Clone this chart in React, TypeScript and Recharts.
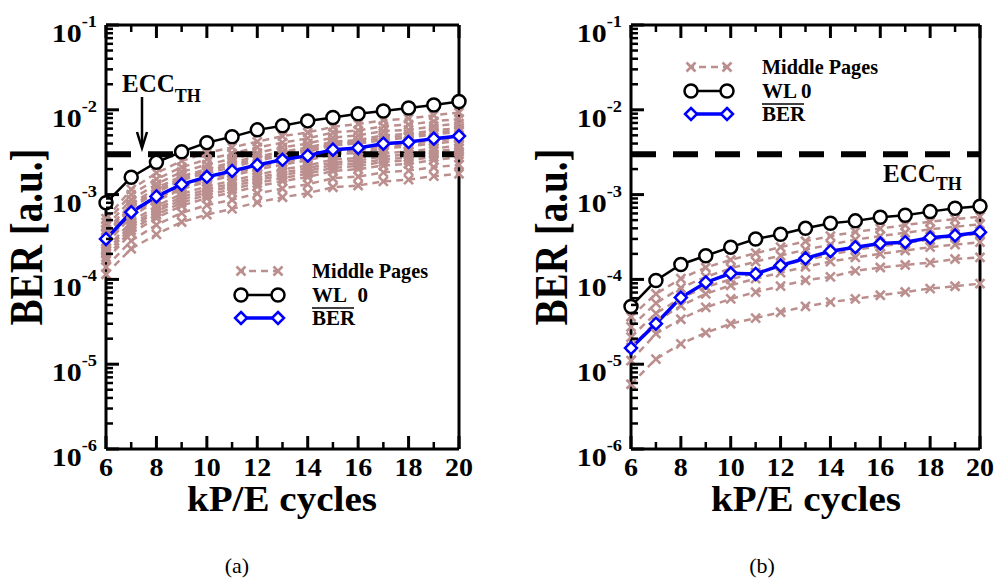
import React from 'react';
import { LineChart, Line, XAxis, YAxis, ReferenceLine } from 'recharts';

const FONT = '"Liberation Serif", "Times New Roman", serif';
const PINK = '#bc8f8f';

// kP/E cycles
const cycles = [6, 7, 8, 9, 10, 11, 12, 13, 14, 15, 16, 17, 18, 19, 20];

// panel (a)
const wl0A = [8.0e-4, 1.6e-3, 2.4e-3, 3.2e-3, 4.1e-3, 4.8e-3, 5.8e-3, 6.5e-3, 7.4e-3, 8.1e-3, 9.0e-3, 9.7e-3, 1.05e-2, 1.14e-2, 1.25e-2];
const berA = [3.0e-4, 6.2e-4, 9.5e-4, 1.32e-3, 1.62e-3, 1.9e-3, 2.24e-3, 2.57e-3, 2.88e-3, 3.39e-3, 3.55e-3, 3.98e-3, 4.17e-3, 4.57e-3, 4.9e-3];
const middleA = [
  [5.2e-4, 1.15e-3, 1.8e-3, 2.5e-3, 3.1e-3, 3.6e-3, 4.2e-3, 4.9e-3, 5.4e-3, 6.3e-3, 6.8e-3, 7.5e-3, 7.9e-3, 8.6e-3, 9.3e-3],
  [4.7e-4, 1.0e-3, 1.52e-3, 2.1e-3, 2.6e-3, 3.05e-3, 3.6e-3, 4.1e-3, 4.6e-3, 5.4e-3, 5.7e-3, 6.4e-3, 6.7e-3, 7.3e-3, 7.8e-3],
  [4.2e-4, 8.7e-4, 1.33e-3, 1.85e-3, 2.25e-3, 2.65e-3, 3.1e-3, 3.6e-3, 4.0e-3, 4.7e-3, 5.0e-3, 5.6e-3, 5.8e-3, 6.4e-3, 6.9e-3],
  [3.8e-4, 7.7e-4, 1.2e-3, 1.65e-3, 2.0e-3, 2.4e-3, 2.8e-3, 3.2e-3, 3.6e-3, 4.2e-3, 4.4e-3, 5.0e-3, 5.2e-3, 5.7e-3, 6.1e-3],
  [3.55e-4, 7.3e-4, 1.12e-3, 1.56e-3, 1.91e-3, 2.24e-3, 2.64e-3, 3.03e-3, 3.4e-3, 4.0e-3, 4.19e-3, 4.7e-3, 4.92e-3, 5.4e-3, 5.78e-3],
  [3.4e-4, 7.0e-4, 1.06e-3, 1.48e-3, 1.8e-3, 2.1e-3, 2.5e-3, 2.9e-3, 3.2e-3, 3.8e-3, 4.0e-3, 4.4e-3, 4.7e-3, 5.1e-3, 5.5e-3],
  [3.1e-4, 6.0e-4, 9.7e-4, 1.3e-3, 1.65e-3, 1.85e-3, 2.2e-3, 2.6e-3, 2.85e-3, 3.3e-3, 3.6e-3, 3.9e-3, 4.2e-3, 4.5e-3, 4.8e-3],
  [2.8e-4, 5.8e-4, 8.9e-4, 1.24e-3, 1.52e-3, 1.79e-3, 2.1e-3, 2.42e-3, 2.7e-3, 3.2e-3, 3.34e-3, 3.74e-3, 3.92e-3, 4.3e-3, 4.6e-3],
  [2.6e-4, 5.5e-4, 8.4e-4, 1.16e-3, 1.42e-3, 1.67e-3, 1.97e-3, 2.26e-3, 2.53e-3, 3.0e-3, 3.1e-3, 3.5e-3, 3.7e-3, 4.0e-3, 4.3e-3],
  [2.3e-4, 4.8e-4, 7.3e-4, 1.02e-3, 1.25e-3, 1.46e-3, 1.72e-3, 1.98e-3, 2.2e-3, 2.6e-3, 2.7e-3, 3.1e-3, 3.2e-3, 3.5e-3, 3.8e-3],
  [2.15e-4, 4.4e-4, 6.75e-4, 9.4e-4, 1.15e-3, 1.35e-3, 1.59e-3, 1.82e-3, 2.04e-3, 2.4e-3, 2.52e-3, 2.83e-3, 2.96e-3, 3.24e-3, 3.48e-3],
  [2.0e-4, 4.1e-4, 6.3e-4, 8.7e-4, 1.07e-3, 1.25e-3, 1.48e-3, 1.7e-3, 1.9e-3, 2.24e-3, 2.35e-3, 2.6e-3, 2.75e-3, 3.0e-3, 3.2e-3],
  [1.83e-4, 3.8e-4, 5.8e-4, 8.05e-4, 9.9e-4, 1.16e-3, 1.37e-3, 1.57e-3, 1.76e-3, 2.07e-3, 2.17e-3, 2.43e-3, 2.54e-3, 2.79e-3, 2.99e-3],
  [1.7e-4, 3.5e-4, 5.3e-4, 7.4e-4, 9.1e-4, 1.06e-3, 1.25e-3, 1.44e-3, 1.61e-3, 1.9e-3, 2.0e-3, 2.2e-3, 2.3e-3, 2.56e-3, 2.75e-3],
  [1.4e-4, 2.85e-4, 4.4e-4, 6.1e-4, 7.5e-4, 8.7e-4, 1.03e-3, 1.18e-3, 1.32e-3, 1.56e-3, 1.63e-3, 1.83e-3, 1.92e-3, 2.1e-3, 2.25e-3],
  [1.15e-4, 2.3e-4, 3.4e-4, 4.75e-4, 5.8e-4, 6.8e-4, 8.1e-4, 9.3e-4, 1.04e-3, 1.22e-3, 1.28e-3, 1.43e-3, 1.5e-3, 1.65e-3, 1.76e-3],
];

// panel (b)
const wl0B = [4.8e-5, 9.7e-5, 1.5e-4, 1.9e-4, 2.4e-4, 3.0e-4, 3.4e-4, 4.0e-4, 4.6e-4, 4.9e-4, 5.4e-4, 5.7e-4, 6.3e-4, 6.9e-4, 7.3e-4];
const berB = [1.55e-5, 3.0e-5, 6.1e-5, 9.2e-5, 1.18e-4, 1.16e-4, 1.46e-4, 1.77e-4, 2.15e-4, 2.4e-4, 2.65e-4, 2.75e-4, 3.1e-4, 3.3e-4, 3.6e-4];
const middleB = [
  [3.63e-5, 6.76e-5, 1.02e-4, 1.38e-4, 1.7e-4, 2.04e-4, 2.4e-4, 2.82e-4, 3.24e-4, 3.63e-4, 3.98e-4, 4.37e-4, 4.79e-4, 5.13e-4, 5.5e-4],
  [2.75e-5, 5.25e-5, 7.94e-5, 1.07e-4, 1.35e-4, 1.62e-4, 1.91e-4, 2.24e-4, 2.57e-4, 2.95e-4, 3.24e-4, 3.55e-4, 3.89e-4, 4.17e-4, 4.47e-4],
  [2.09e-5, 3.98e-5, 6.03e-5, 8.13e-5, 1.0e-4, 1.2e-4, 1.45e-4, 1.7e-4, 1.95e-4, 2.24e-4, 2.45e-4, 2.69e-4, 2.95e-4, 3.24e-4, 3.47e-4],
  [1.58e-5, 3.16e-5, 4.9e-5, 6.76e-5, 8.51e-5, 1.02e-4, 1.2e-4, 1.41e-4, 1.62e-4, 1.82e-4, 2.0e-4, 2.19e-4, 2.4e-4, 2.57e-4, 2.75e-4],
  [1.1e-5, 2.29e-5, 3.39e-5, 4.68e-5, 5.89e-5, 7.08e-5, 8.32e-5, 9.77e-5, 1.07e-4, 1.26e-4, 1.38e-4, 1.48e-4, 1.58e-4, 1.74e-4, 1.82e-4],
  [5.8e-6, 1.15e-5, 1.74e-5, 2.35e-5, 3.0e-5, 3.5e-5, 4.1e-5, 4.8e-5, 5.4e-5, 5.9e-5, 6.5e-5, 7.1e-5, 7.8e-5, 8.3e-5, 8.9e-5],
];

const eccThreshold = 3e-3;

// axis ticks
const decades = [1e-6, 1e-5, 1e-4, 1e-3, 1e-2, 1e-1];
const minorSteps = [2, 3, 4, 5, 6, 7, 8, 9];
const yTicks = decades.flatMap((d, i) =>
  i < decades.length - 1 ? [d, ...minorSteps.map((m) => m * d)] : [d]
);

function Cross({ cx, cy, s = 4.5 }: { cx: number; cy: number; s?: number }) {
  return (
    <path
      d={`M${cx - s},${cy - s}L${cx + s},${cy + s}M${cx - s},${cy + s}L${cx + s},${cy - s}`}
      stroke={PINK}
      strokeWidth={2.6}
      fill="none"
    />
  );
}

function Circle({ cx, cy }: { cx: number; cy: number }) {
  return <circle cx={cx} cy={cy} r={6.5} fill="#fff" stroke="#000" strokeWidth={2.5} />;
}

function Diamond({ cx, cy }: { cx: number; cy: number }) {
  const s = 6;
  return (
    <path
      d={`M${cx},${cy - s}L${cx + s},${cy}L${cx},${cy + s}L${cx - s},${cy}Z`}
      fill="#fff"
      stroke="#0000ff"
      strokeWidth={2.5}
    />
  );
}

function XTick(props: any) {
  const { x, y, payload, side } = props;
  const v = payload.value;
  const major = v % 2 === 0;
  const len = major ? 13 : 7;
  const dir = side === 'bottom' ? -1 : 1;
  return (
    <g>
      <line x1={x} x2={x} y1={y} y2={y + dir * len} stroke="#000" strokeWidth={major ? 3 : 2.5} />
      {side === 'bottom' && major ? (
        <g transform={`translate(${x},${y + 27}) scale(1.12,1)`}>
          <text x={0} y={0} textAnchor="middle" fontFamily={FONT} fontWeight="bold" fontSize={25} fill="#000">
            {v}
          </text>
        </g>
      ) : null}
    </g>
  );
}

function YTick(props: any) {
  const { x, y, payload, side } = props;
  const v = payload.value;
  const lg = Math.log10(v);
  const e = Math.round(lg);
  const major = Math.abs(lg - e) < 1e-6;
  const len = major ? 13 : 7;
  const dir = side === 'left' ? 1 : -1;
  return (
    <g>
      <line x1={x} x2={x + dir * len} y1={y} y2={y} stroke="#000" strokeWidth={major ? 3 : 2.5} />
      {side === 'left' && major ? (
        <g transform={`translate(${x - 9},${y + 17}) scale(1.15,1)`}>
          <text x={0} y={0} textAnchor="end" fontFamily={FONT} fontWeight="bold" fontSize={26} fill="#000">
            <tspan>10</tspan>
            <tspan dy={-15} fontSize={16}>{`${e}`}</tspan>
          </text>
        </g>
      ) : null}
    </g>
  );
}

type PanelProps = {
  wl0: number[];
  ber: number[];
  middle: number[][];
  left: number;
  width: number;
  plotLeft: number;
  plotRight: number;
};

// axes get a 1px box (a 0px axis is not drawn); the margins take that into account
function Panel({ wl0, ber, middle, left, width, plotLeft, plotRight }: PanelProps) {
  const rows = cycles.map((x, i) => {
    const r: Record<string, number> = { x, wl0: wl0[i], ber: ber[i] };
    middle.forEach((m, j) => {
      r[`m${j}`] = m[i];
    });
    return r;
  });
  const frame = { stroke: '#000', strokeWidth: 3 };

  return (
    <div style={{ position: 'absolute', left, top: 0 }}>
      <LineChart
        width={width}
        height={581}
        data={rows}
        margin={{ top: 24, bottom: 131, left: plotLeft - 1, right: width - plotRight - 1 }}
      >
        <XAxis
          xAxisId="b"
          dataKey="x"
          type="number"
          domain={[6, 20]}
          ticks={cycles}
          interval={0}
          height={1}
          tickSize={0}
          tickMargin={0}
          axisLine={frame}
          tickLine={false}
          tick={(p: any) => <XTick {...p} side="bottom" />}
        />
        <XAxis
          xAxisId="t"
          orientation="top"
          dataKey="x"
          type="number"
          domain={[6, 20]}
          ticks={cycles}
          interval={0}
          height={1}
          tickSize={0}
          tickMargin={0}
          axisLine={frame}
          tickLine={false}
          tick={(p: any) => <XTick {...p} side="top" />}
        />
        <YAxis
          yAxisId="l"
          type="number"
          scale="log"
          domain={[1e-6, 1e-1]}
          ticks={yTicks}
          interval={0}
          width={1}
          tickSize={0}
          tickMargin={0}
          axisLine={frame}
          tickLine={false}
          tick={(p: any) => <YTick {...p} side="left" />}
        />
        <YAxis
          yAxisId="r"
          orientation="right"
          type="number"
          scale="log"
          domain={[1e-6, 1e-1]}
          ticks={yTicks}
          interval={0}
          width={1}
          tickSize={0}
          tickMargin={0}
          axisLine={frame}
          tickLine={false}
          tick={(p: any) => <YTick {...p} side="right" />}
        />
        {middle.map((_, j) => (
          <Line
            key={`m${j}`}
            xAxisId="b"
            yAxisId="l"
            dataKey={`m${j}`}
            stroke={PINK}
            strokeWidth={2.5}
            strokeDasharray="7 5"
            isAnimationActive={false}
            dot={(p: any) => <Cross key={`c${j}-${p.index}`} cx={p.cx} cy={p.cy} />}
            activeDot={false}
          />
        ))}
        <ReferenceLine
          xAxisId="b"
          yAxisId="l"
          y={eccThreshold}
          stroke="#000"
          strokeWidth={6}
          strokeDasharray="25 17"
          zIndex={450}
        />
        <Line
          xAxisId="b"
          yAxisId="l"
          dataKey="wl0"
          stroke="#000"
          strokeWidth={2.5}
          isAnimationActive={false}
          dot={(p: any) => <Circle key={`w${p.index}`} cx={p.cx} cy={p.cy} />}
          activeDot={false}
          zIndex={500}
        />
        <Line
          xAxisId="b"
          yAxisId="l"
          dataKey="ber"
          stroke="#0000ff"
          strokeWidth={3.5}
          isAnimationActive={false}
          dot={(p: any) => <Diamond key={`d${p.index}`} cx={p.cx} cy={p.cy} />}
          activeDot={false}
          zIndex={500}
        />
      </LineChart>
    </div>
  );
}

function LegendBlock({ x0, x1, tx, rows, wlLabel }: { x0: number; x1: number; tx: number; rows: number[]; wlLabel: string }) {
  const [r1, r2, r3] = rows;
  return (
    <g fontFamily={FONT} fontWeight="bold" fontSize={21} fill="#000">
      <line x1={x0} x2={x1} y1={r1} y2={r1} stroke={PINK} strokeWidth={2.5} strokeDasharray="7 5" strokeDashoffset={-8} />
      <Cross cx={x0} cy={r1} />
      <Cross cx={x1} cy={r1} />
      <text x={tx} y={r1 + 7} textLength={116} lengthAdjust="spacingAndGlyphs">Middle Pages</text>
      <line x1={x0} x2={x1} y1={r2} y2={r2} stroke="#000" strokeWidth={2.5} />
      <Circle cx={x0} cy={r2} />
      <Circle cx={x1} cy={r2} />
      <text x={tx} y={r2 + 7} xmlSpace="preserve">{wlLabel}</text>
      <line x1={x0} x2={x1} y1={r3} y2={r3} stroke="#0000ff" strokeWidth={3.5} />
      <Diamond cx={x0} cy={r3} />
      <Diamond cx={x1} cy={r3} />
      <text x={tx} y={r3 + 7}>BER</text>
      <line x1={tx} x2={tx + 42} y1={r3 - 10} y2={r3 - 10} stroke="#000" strokeWidth={1.5} />
    </g>
  );
}

function Overlay() {
  const bold = { fontFamily: FONT, fontWeight: 'bold' as const, fill: '#000' };
  return (
    <svg width={999} height={581} style={{ position: 'absolute', left: 0, top: 0, pointerEvents: 'none' }}>
      {/* axis titles */}
      <text {...bold} fontSize={35} x={282} y={511} textAnchor="middle" textLength={190} lengthAdjust="spacingAndGlyphs">
        kP/E cycles
      </text>
      <text {...bold} fontSize={35} x={806} y={511} textAnchor="middle" textLength={190} lengthAdjust="spacingAndGlyphs">
        kP/E cycles
      </text>
      <g transform="translate(42,237) rotate(-90) scale(1,1.2)">
        <text {...bold} fontSize={38} x={0} y={0} textAnchor="middle" textLength={177} lengthAdjust="spacingAndGlyphs">
          BER [a.u.]
        </text>
      </g>
      <g transform="translate(567,237) rotate(-90) scale(1,1.2)">
        <text {...bold} fontSize={38} x={0} y={0} textAnchor="middle" textLength={177} lengthAdjust="spacingAndGlyphs">
          BER [a.u.]
        </text>
      </g>

      {/* ECC threshold labels */}
      <text {...bold} fontSize={25} x={122} y={92}>
        <tspan>ECC</tspan>
        <tspan dy={10} fontSize={18}>TH</tspan>
      </text>
      <line x1={142} x2={142} y1={97} y2={147} stroke="#000" strokeWidth={2.5} />
      <polyline points="137,132 142,148 147,132" fill="none" stroke="#000" strokeWidth={2.5} />
      <text {...bold} fontSize={25} x={883} y={182}>
        <tspan>ECC</tspan>
        <tspan dy={8} fontSize={18}>TH</tspan>
      </text>

      {/* legends */}
      <LegendBlock x0={241} x1={278} tx={312} rows={[271, 295, 318]} wlLabel={'WL\u00a0\u00a00'} />
      <LegendBlock x0={691} x1={727} tx={762} rows={[67, 91, 114]} wlLabel="WL 0" />

      {/* sub-captions */}
      <text fontFamily={FONT} fontSize={22} x={237} y={573} textAnchor="middle" fill="#000">(a)</text>
      <text fontFamily={FONT} fontSize={22} x={762} y={573} textAnchor="middle" fill="#000">(b)</text>
    </svg>
  );
}

export default function App() {
  return (
    <div style={{ position: 'absolute', left: 0, top: 0, width: 999, height: 581, background: '#fff' }}>
      <Panel wl0={wl0A} ber={berA} middle={middleA} left={0} width={490} plotLeft={106} plotRight={459} />
      <Panel wl0={wl0B} ber={berB} middle={middleB} left={490} width={509} plotLeft={141} plotRight={490} />
      <Overlay />
    </div>
  );
}
